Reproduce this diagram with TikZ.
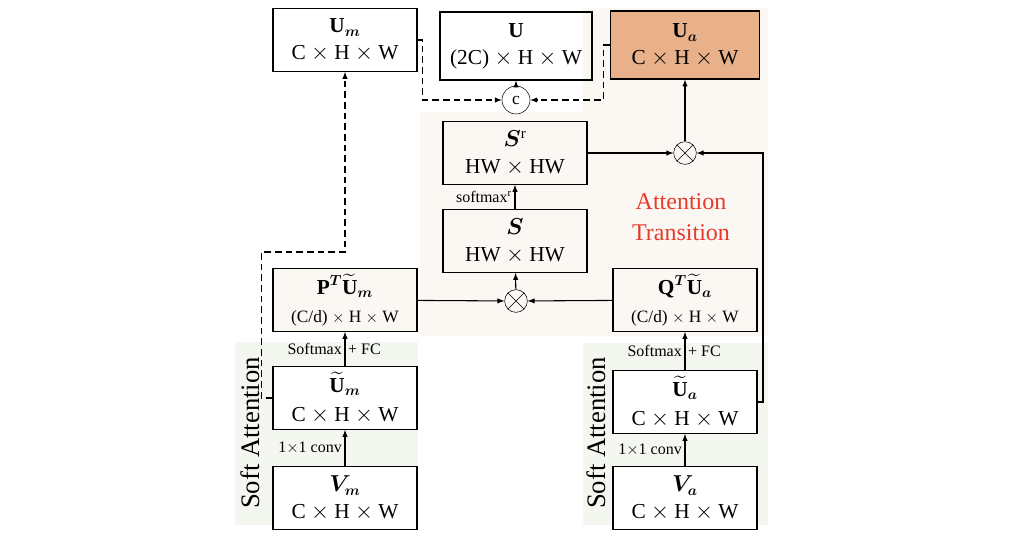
\documentclass[tikz,border=0pt]{standalone}
\usepackage{fontspec}
\setmainfont{Liberation Serif}
\usepackage{amsmath,amssymb,bm}
\usetikzlibrary{positioning,backgrounds}
\definecolor{paleback}{HTML}{FBF8F4}
\definecolor{softback}{HTML}{F3F7F0}
\definecolor{uaorange}{HTML}{E8B18A}
\definecolor{attred}{HTML}{E8392B}
\tikzset{block/.style={
        draw,
        thick,
        rectangle,
        minimum height=47pt,
        minimum width=108pt,
        align=center,
        inner sep=1pt,
        font=\fontsize{16}{20}\selectfont } }
\tikzset{op/.style={
    draw,
    circle,
    minimum size=17pt,
    inner sep=0pt } }
\tikzset{lbl/.style={font=\fontsize{12}{13}\selectfont, inner sep=2pt}}
\tikzset{flow/.style={->, >=latex, thick}}
\tikzset{dflow/.style={->, >=latex, thick, dashed, dash pattern=on 5pt off 3pt}}

\begin{document}
\begin{tikzpicture}[x=0.75pt,y=-0.75pt]
\useasboundingbox (0,0) rectangle (1036,544);

% backgrounds
\fill[paleback] (430,112) -- (583,112) -- (583,8) -- (768,8) -- (768,336) -- (420,336) -- (420,112) -- cycle;
\fill[softback] (235,342) rectangle (418,525);
\fill[softback] (583,343) rectangle (768,525);

\node[block] (Um) at (345,40) {$\mathbf{U}_{\bm m}$\\C $\times$ H $\times$ W};
\node[block,minimum width=114pt,minimum height=51pt] (U) at (516,46) {$\mathbf{U}$\\(2C) $\times$ H $\times$ W};
\node[block,fill=uaorange,minimum width=112pt,minimum height=51pt] (Ua) at (685,45) {$\mathbf{U}_{\bm a}$\\C $\times$ H $\times$ W};
\node[op,font=\fontsize{13}{13}\selectfont,minimum size=21pt] (cat) at (516,100) {c};

\node[block,fill=paleback] (Sr) at (515,153) {$\bm{S}^{\mathrm{r}}$\\HW $\times$ HW};
\node[block,fill=paleback] (S) at (515,241) {$\bm{S}$\\HW $\times$ HW};
\node[op] (mulTop) at (685,153) {};
\node[op] (mulMid) at (516,301) {};
\foreach \n in {mulTop,mulMid}
  \draw (\n.north west) -- (\n.south east) (\n.north east) -- (\n.south west);

\node[block,fill=paleback] (PUm) at (345,300) {$\mathbf{P}^{\bm T}\widetilde{\mathbf{U}}_{\bm m}$\\[1pt]{\fontsize{13}{14}\selectfont (C/d) $\times$ H $\times$ W}};
\node[block,fill=paleback] (QUa) at (685,300) {$\mathbf{Q}^{\bm T}\widetilde{\mathbf{U}}_{\bm a}$\\[1pt]{\fontsize{13}{14}\selectfont (C/d) $\times$ H $\times$ W}};

\node[block,fill=white] (tUm) at (345,398) {$\widetilde{\mathbf{U}}_{\bm m}$\\[2pt]C $\times$ H $\times$ W};
\node[block,fill=white] (tUa) at (685,402) {$\widetilde{\mathbf{U}}_{\bm a}$\\[2pt]C $\times$ H $\times$ W};
\node[block,fill=white] (Vm) at (345,498) {$\bm{V}_{\bm m}$\\C $\times$ H $\times$ W};
\node[block,fill=white] (Va) at (685,498) {$\bm{V}_{\bm a}$\\C $\times$ H $\times$ W};

\node[text=attred,align=center,font=\fontsize{18}{23}\selectfont] (att) at (681,217) {Attention\\Transition};
\node[rotate=90,font=\fontsize{20}{20}\selectfont] (softL) at (250,433) {Soft Attention};
\node[rotate=90,font=\fontsize{20}{20}\selectfont] (softR) at (596,433) {Soft Attention};

\coordinate (jL) at (262,252);
\coordinate (jT) at (763,153);

% solid flow
\draw[flow] (Vm) -- node[lbl,left] {1$\times$1 conv} (tUm);
\draw[flow] (Va) -- node[lbl,left] {1$\times$1 conv} (tUa);
\draw[flow] (tUm) -- node[lbl,left] {Softmax} node[lbl,right] {+ FC} (PUm);
\draw[flow] (tUa) -- node[lbl,left] {Softmax} node[lbl,right] {+ FC} (QUa);
\draw[flow] (PUm) -- (mulMid);
\draw[flow] (QUa) -- (mulMid);
\draw[flow] (mulMid) -- (S);
\draw[flow] (S) -- node[lbl,left] {softmax$^{\mathrm{r}}$} (Sr);
\draw[flow] (Sr) -- (mulTop);
\draw[flow] (tUa.east) -| (jT) -- (mulTop);
\draw[flow] (mulTop) -- (Ua);
\draw[flow] (cat) -- (U);

% dashed flow
\draw[dflow] (tUm.west) -- ++(-11,0) |- (jL) -| (Um.south);
\draw[dflow] (Um.east) -- ++(5,0) |- (cat);
\draw[dflow] (Ua.west) -- ++(-6,0) |- (cat);
\end{tikzpicture}
\end{document}
